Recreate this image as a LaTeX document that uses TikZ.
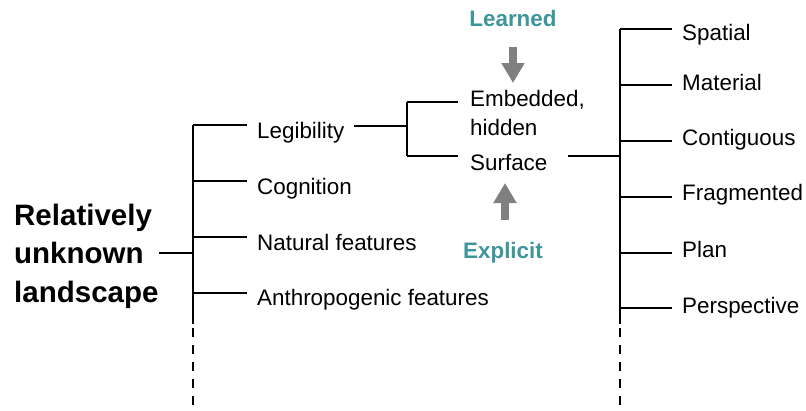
\documentclass[tikz,border=0pt]{standalone}
\usepackage{fontspec}
\setmainfont{Liberation Sans}
\usetikzlibrary{arrows.meta}
\definecolor{tagteal}{RGB}{62,150,156}
\definecolor{arrowgray}{RGB}{128,128,128}
\begin{document}
\begin{tikzpicture}[x=1pt,y=-1pt,
  lbl/.style={anchor=base west, inner sep=0pt, font=\fontsize{22.4}{26}\selectfont},
  ttl/.style={anchor=base west, inner sep=0pt, font=\fontsize{29.5}{36}\selectfont\bfseries},
  tag/.style={anchor=base, inner sep=0pt, font=\fontsize{22.4}{26}\selectfont\bfseries, text=tagteal},
  rule/.style={line width=2.4pt, draw=black},
  dashrule/.style={line width=2.4pt, draw=black, dash pattern=on 9pt off 8pt, dash phase=13pt},
  bigarrow/.style={draw=arrowgray, line width=8pt, -{Triangle[width=22pt,length=20pt]}, fill=arrowgray}]
\useasboundingbox (0,0) rectangle (806,410);

% title
\node[ttl] (t1) at (14,225) {Relatively};
\node[ttl] (t2) at (14,263) {unknown};
\node[ttl] (t3) at (14,302) {landscape};
\coordinate (root) at (193,253);
\draw[rule] (t3.east |- root) -- (root);

% left bracket
\coordinate (lb1) at (193,125);
\coordinate (lb2) at (193,181);
\coordinate (lb3) at (193,237);
\coordinate (lb4) at (193,293);
\coordinate (lbEnd) at (193,324);
\coordinate (lbFoot) at (193,410);
\draw[rule] (lb1) -- (lbEnd);
\draw[dashrule] (lbEnd) -- (lbFoot);

\node[lbl] (leg) at (257,138) {Legibility};
\node[lbl] (cog) at (257,194.5) {Cognition};
\node[lbl] (nat) at (257,250) {Natural features};
\node[lbl] (ant) at (257,305.5) {Anthropogenic features};
\foreach \c/\n in {lb1/leg,lb2/cog,lb3/nat,lb4/ant}
  \draw[rule] (\c) -- ([xshift=-10pt]\n.west |- \c);

% legibility sub-bracket
\coordinate (sb) at (407,126);
\coordinate (sbTop) at (407,102);
\coordinate (sbBot) at (407,156);
\draw[rule] ([xshift=9pt]leg.east |- sb) -- (sb);
\draw[rule] (sbTop) -- (sbBot);

\node[lbl] (emb) at (470,106) {Embedded,};
\node[lbl] (hid) at (470,135.5) {hidden};
\node[lbl] (surf) at (470,170) {Surface};
\draw[rule] (sbTop) -- ([xshift=-12pt]emb.west |- sbTop);
\draw[rule] (sbBot) -- ([xshift=-12pt]surf.west |- sbBot);

% right bracket
\coordinate (rb) at (620,156);
\coordinate (rb1) at (620,29);
\coordinate (rb2) at (620,85);
\coordinate (rb3) at (620,141);
\coordinate (rb4) at (620,197);
\coordinate (rb5) at (620,253);
\coordinate (rb6) at (620,308);
\coordinate (rbEnd) at (620,324);
\coordinate (rbFoot) at (620,410);
\draw[rule] ([xshift=20pt]surf.east |- rb) -- (rb);
\draw[rule] (rb1) -- (rbEnd);
\draw[dashrule] (rbEnd) -- (rbFoot);

\node[lbl] (spa) at (682,40.5) {Spatial};
\node[lbl] (mat) at (682,90) {Material};
\node[lbl] (con) at (682,145) {Contiguous};
\node[lbl] (fra) at (682,200) {Fragmented};
\node[lbl] (pla) at (682,257) {Plan};
\node[lbl] (per) at (682,313) {Perspective};
\foreach \c/\n in {rb1/spa,rb2/mat,rb3/con,rb4/fra,rb5/pla,rb6/per}
  \draw[rule] (\c) -- ([xshift=-10pt]\n.west |- \c);

% learned / explicit arrows
\node[tag] (learned) at (513,26) {Learned};
\node[tag] (explicit) at (503,258) {Explicit};
\coordinate (dnA) at (513,47);
\coordinate (dnB) at (513,83);
\coordinate (upA) at (505,220);
\coordinate (upB) at (505,183);
\draw[bigarrow] (dnA) -- (dnB);
\draw[bigarrow] (upA) -- (upB);
\end{tikzpicture}
\end{document}
